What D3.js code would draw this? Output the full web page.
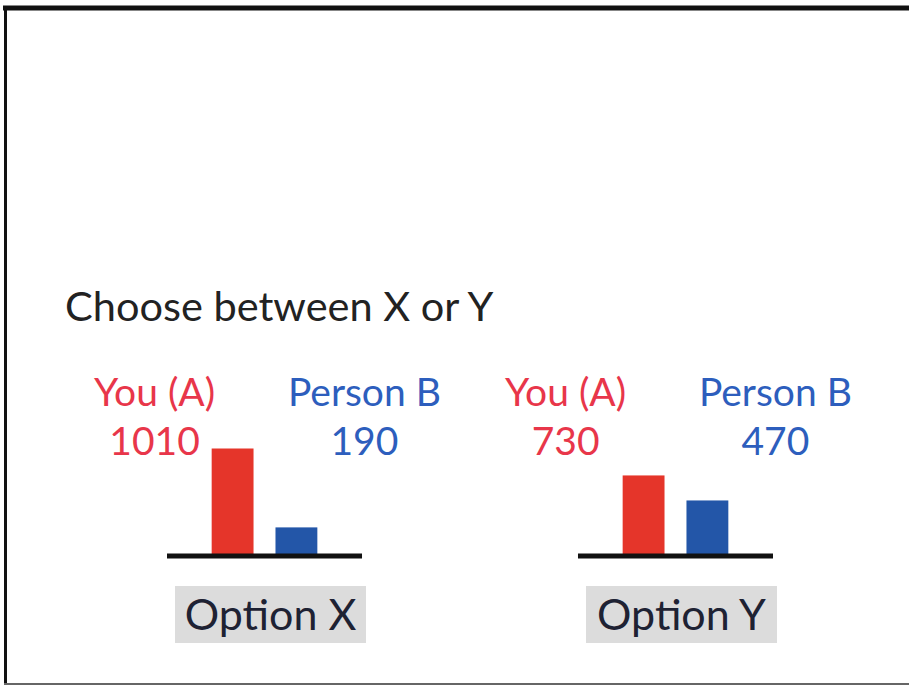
<!DOCTYPE html>
<html>
<head>
    <meta charset="utf-8">
    <script src="https://d3js.org/d3.v7.min.js"></script>
    <style>
        body { margin: 0; background: #fff; }
        text { font-family: Lato, "Open Sans", sans-serif; }
    </style>
</head>
<body></body>
<script>
    var width = 909, height = 685;

    // data
    var options = ["Option X", "Option Y"];
    var people = ["You (A)", "Person B"];
    var payoffs = [[1010, 190], [730, 470]];
    var colors = {bar: ["#e5352a", "#2356a8"], text: ["#e8364a", "#2d5ebd"]};
    var title = "Choose between X or Y";

    var svg = d3.select("body").append("svg")
        .attr("width", width)
        .attr("height", height);

    // frame
    svg.append("line").attr("x1", 3).attr("x2", width).attr("y1", 8).attr("y2", 8)
        .attr("stroke", "#111").attr("stroke-width", 5);
    svg.append("line").attr("x1", 5.5).attr("x2", 5.5).attr("y1", 6).attr("y2", height)
        .attr("stroke", "#111").attr("stroke-width", 3);
    svg.append("line").attr("x1", 4).attr("x2", width).attr("y1", 684).attr("y2", 684)
        .attr("stroke", "#666").attr("stroke-width", 2);

    svg.append("text")
        .attr("x", 65).attr("y", 321)
        .attr("font-size", 41.5)
        .attr("fill", "#222")
        .text(title);

    var baseline = 555;
    var x0 = d3.scaleBand().domain(options).range([167, 773]).paddingInner(0.5255);
    var x1 = d3.scaleBand().domain(people).range([0, x0.bandwidth()])
        .paddingInner(0.344).paddingOuter(0.7);
    // bars in the picture start a little below zero
    var y = d3.scaleLinear().domain([-97, 1010]).range([baseline, baseline - 106.5]);

    var groups = svg.selectAll("g.opt").data(options).enter().append("g")
        .attr("class", "opt")
        .attr("transform", function(d) { return "translate(" + x0(d) + ",0)"; });

    groups.selectAll("rect.bar")
        .data(function(d, i) { return payoffs[i].map(function(v, j) { return {p: people[j], v: v, j: j}; }); })
        .enter().append("rect")
        .attr("class", "bar")
        .attr("x", function(d) { return x1(d.p); })
        .attr("width", x1.bandwidth())
        .attr("y", function(d) { return y(d.v); })
        .attr("height", function(d) { return baseline - y(d.v); })
        .attr("fill", function(d) { return colors.bar[d.j]; });

    groups.append("line")
        .attr("x1", 0).attr("x2", x0.bandwidth())
        .attr("y1", baseline + 1).attr("y2", baseline + 1)
        .attr("stroke", "#111").attr("stroke-width", 5);

    var shift = [-78, 68];
    var labels = groups.selectAll("g.lab")
        .data(function(d, i) { return payoffs[i].map(function(v, j) { return {p: people[j], v: v, j: j}; }); })
        .enter().append("g")
        .attr("class", "lab")
        .attr("transform", function(d) {
            return "translate(" + (x1(d.p) + x1.bandwidth() / 2 + shift[d.j]) + ",0)";
        });
    labels.append("text")
        .attr("y", 406).attr("text-anchor", "middle").attr("font-size", 39)
        .attr("fill", function(d) { return colors.text[d.j]; })
        .text(function(d) { return d.p; });
    labels.append("text")
        .attr("y", 455).attr("text-anchor", "middle").attr("font-size", 39)
        .attr("fill", function(d) { return colors.text[d.j]; })
        .text(function(d) { return d.v; });

    var cx = x0.bandwidth() / 2 + 6;
    groups.append("rect")
        .attr("x", cx - 95.5).attr("y", 586)
        .attr("width", 191).attr("height", 57)
        .attr("fill", "#dcdcdc");
    groups.append("text")
        .attr("x", cx).attr("y", 630)
        .attr("text-anchor", "middle").attr("font-size", 43)
        .attr("fill", "#1e2233")
        .text(function(d) { return d; });
</script>
</html>
